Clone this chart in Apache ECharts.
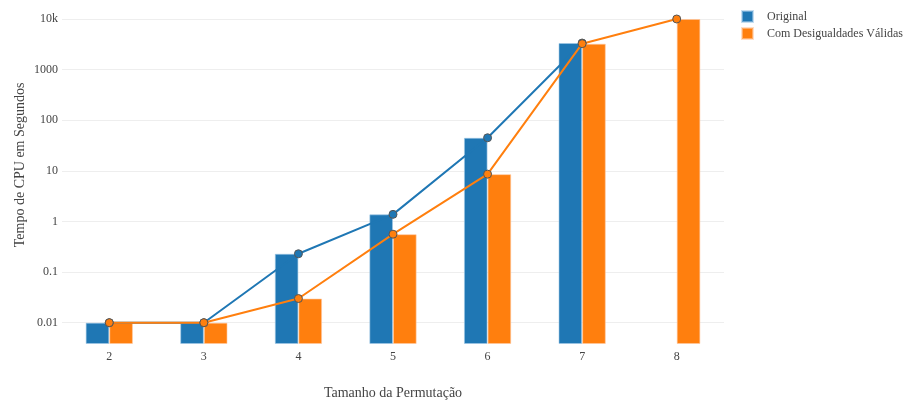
<!DOCTYPE html>
<html>
<head>
<meta charset="utf-8">
<script src="https://cdn.jsdelivr.net/npm/echarts@6/dist/echarts.min.js"></script>
<style>html,body{margin:0;padding:0;background:#fff}#c{width:904px;height:403px}</style>
</head>
<body>
<div id="c"></div>
<script>
const categories = ['2', '3', '4', '5', '6', '7', '8'];
const original = [0.01, 0.01, 0.23, 1.38, 45, 3350, null];
const comDesigualdades = [0.01, 0.01, 0.03, 0.56, 8.6, 3250, 10000];
const seriesNames = ['Original', 'Com Desigualdades Válidas'];
const yTickLabels = {'0.01': '0.01', '0.1': '0.1', '1': '1', '10': '10', '100': '100', '1000': '1000', '10000': '10k'};

const BLUE = '#1f77b4', ORANGE = '#ff7f0e';
const FONT = '"Liberation Serif", "DejaVu Serif", serif';
const yMin = Math.pow(10, -2.421), yMax = Math.pow(10, 4.3);

const chart = echarts.init(document.getElementById('c'));
chart.setOption({
  animation: false,
  textStyle: { fontFamily: FONT },
  legend: {
    data: seriesNames.map(n => ({ name: n, icon: 'rect' })),
    orient: 'vertical', left: 741, top: 10, padding: 0,
    itemWidth: 11, itemHeight: 11, itemGap: 4,
    textStyle: { fontFamily: FONT, fontSize: 12, color: '#444', padding: [0, 0, 0, 9] }
  },
  grid: { left: 62, right: 180, top: 3.8, bottom: 59, containLabel: false, outerBoundsMode: 'none' },
  xAxis: {
    type: 'category', data: categories,
    name: 'Tamanho da Permutação', nameLocation: 'middle', nameGap: 42,
    nameTextStyle: { fontFamily: FONT, fontSize: 14, color: '#444' },
    axisLine: { show: false }, axisTick: { show: false },
    axisLabel: { fontFamily: FONT, fontSize: 12, color: '#444', margin: 7 }
  },
  yAxis: {
    type: 'log', logBase: 10, min: yMin, max: yMax, startValue: yMin,
    name: 'Tempo de CPU em Segundos', nameLocation: 'middle', nameGap: 35, nameMoveOverlap: false,
    nameTextStyle: { fontFamily: FONT, fontSize: 14, color: '#444', padding: [0, 0, 0, 18] },
    axisLine: { show: false }, axisTick: { show: false },
    splitLine: { show: true, showMinLine: false, showMaxLine: false, lineStyle: { color: '#eee', width: 1 } },
    axisLabel: {
      fontFamily: FONT, fontSize: 12, color: '#444', margin: 4,
      showMinLabel: false, showMaxLabel: false,
      formatter: v => {
        const e = Math.log10(v);
        if (Math.abs(e - Math.round(e)) > 1e-6) return '';
        return yTickLabels[String(Math.pow(10, Math.round(e)))] || '';
      }
    }
  },
  series: [
    {
      name: seriesNames[0], type: 'bar', data: original, barWidth: '25%', barGap: '0%',
      itemStyle: { color: BLUE, borderColor: 'rgba(160,200,230,0.6)', borderWidth: 1 }
    },
    {
      name: seriesNames[1], type: 'bar', data: comDesigualdades, barWidth: '25%', barGap: '0%',
      itemStyle: { color: ORANGE, borderColor: 'rgba(255,200,160,0.6)', borderWidth: 1 }
    },
    {
      name: seriesNames[0] + ' linha', type: 'line', data: original, symbol: 'circle', symbolSize: 8,
      lineStyle: { color: BLUE, width: 2 },
      itemStyle: { color: BLUE, borderColor: '#555', borderWidth: 1 }, z: 5
    },
    {
      name: seriesNames[1] + ' linha', type: 'line', data: comDesigualdades, symbol: 'circle', symbolSize: 8,
      lineStyle: { color: ORANGE, width: 2 },
      itemStyle: { color: ORANGE, borderColor: '#555', borderWidth: 1 }, z: 5
    }
  ]
});
</script>
</body>
</html>
